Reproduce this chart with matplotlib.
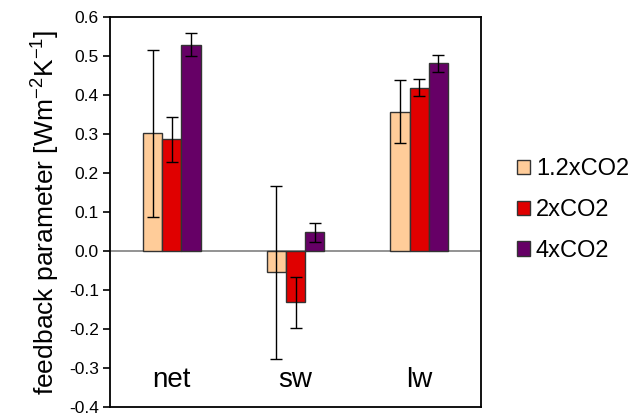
import matplotlib
matplotlib.use("Agg")
import matplotlib.pyplot as plt
from matplotlib.patches import Patch
import numpy as np

plt.rcParams['font.family'] = ['Liberation Sans', 'DejaVu Sans']

categories = ["net", "sw", "lw"]
series = ["1.2xCO2", "2xCO2", "4xCO2"]
values = {
    "1.2xCO2": [0.302, -0.055, 0.357],
    "2xCO2": [0.286, -0.132, 0.419],
    "4xCO2": [0.529, 0.048, 0.481],
}
errors = {
    "1.2xCO2": [0.214, 0.222, 0.081],
    "2xCO2": [0.057, 0.065, 0.022],
    "4xCO2": [0.029, 0.025, 0.022],
}
colors = {"1.2xCO2": "#FFCC99", "2xCO2": "#E00000", "4xCO2": "#660066"}
yticks = [0.6, 0.5, 0.4, 0.3, 0.2, 0.1, 0.0, -0.1, -0.2, -0.3, -0.4]

fig = plt.figure(figsize=(6.44, 4.18), dpi=100)
ax = fig.add_axes([110/644, 11/418, 371/644, 390/418])

x = np.arange(len(categories)) + 0.5
w = 0.156
for i, s in enumerate(series):
    ax.bar(x + (i - 1) * w, values[s], w, color=colors[s], edgecolor='#333333',
           linewidth=1.0, yerr=errors[s], capsize=4,
           error_kw=dict(elinewidth=1.0, capthick=1.0, ecolor='black'),
           zorder=2)

ax.axhline(0, color='#808080', linewidth=1.2, zorder=1)
for xi, c in zip(x, categories):
    ax.text(xi, -0.33, c, ha='center', va='center', fontsize=20)

ax.set_xlim(0, 3)
ax.set_ylim(-0.4, 0.6)
ax.set_yticks(yticks)
ax.set_yticklabels([f"{t:.1f}" for t in yticks], fontsize=12.5)
ax.set_xticks([])
ax.tick_params(axis='y', direction='out', length=5, width=1.2, pad=3)
for sp in ax.spines.values():
    sp.set_linewidth(1.3)
ax.set_ylabel(r"feedback parameter [Wm$^{\mathregular{-2}}$K$^{\mathregular{-1}}$]", fontsize=19, labelpad=6)

ph = [Patch(facecolor=colors[s], edgecolor='#333333', linewidth=1.0) for s in series]
fig.legend(ph, series, loc='center left', bbox_to_anchor=(517/644, 208/418),
           frameon=False, fontsize=17, handlelength=0.55, handleheight=0.55,
           handletextpad=0.25, labelspacing=0.8, borderaxespad=0, borderpad=0)

fig.savefig("out.png", dpi=100)
